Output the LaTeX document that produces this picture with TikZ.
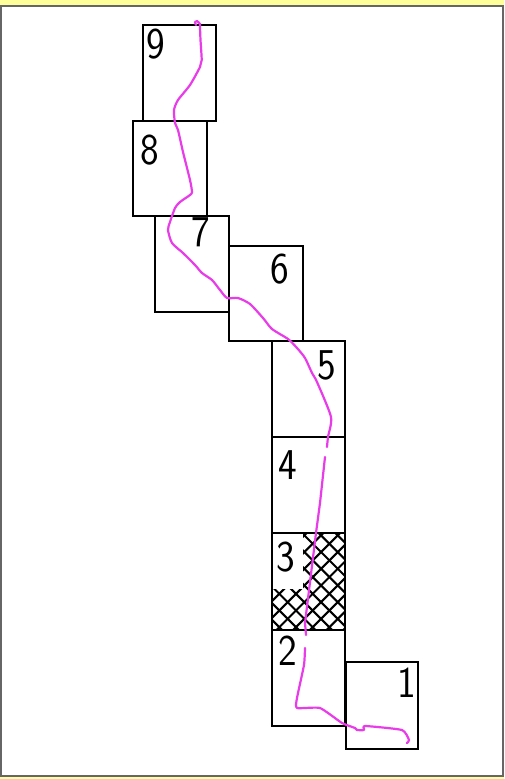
\documentclass[tikz,border=0pt]{standalone}
\begin{document}
\begin{tikzpicture}[x=1pt,y=-1pt,
    cellbox/.style={draw, line width=1.8pt, inner sep=0pt, outer sep=0pt},
    cellnum/.style={font=\sffamily\fontsize{44}{44}\selectfont, xscale=0.9, inner sep=0pt},
    hatchline/.style={line width=2.1pt},
    track/.style={draw=trackcol, line width=2.2pt, line join=round, line cap=round}]
    \definecolor{trackcol}{HTML}{E83CE8}
    \definecolor{sheetcol}{HTML}{FFFF99}
    \useasboundingbox (0,0) rectangle (504,779);
    \fill[sheetcol] (0,0) rectangle (504,779);
    \draw[black!60, fill=white, line width=2pt] (1,6) rectangle (503,776);

    % the cells
    \foreach \nm/\xa/\ya/\xb/\yb in {9/143/25/216/121, 8/133/121/207/216, 7/155/216/229/312, 6/229/246/303/341,
        5/272/341/345/437, 4/272/437/345/533, 3/272/533/345/630, 2/272/630/345/726, 1/346/662/418/749} {
        \pgfmathsetmacro{\cellw}{\xb-\xa}
        \pgfmathsetmacro{\cellh}{\yb-\ya}
        \node[cellbox, minimum width=\cellw pt, minimum height=\cellh pt] (cell\nm) at ({(\xa+\xb)/2},{(\ya+\yb)/2}) {};
    }

    % cross hatching in cell 3
    \begin{scope}
        \clip (303,534) -- (345,534) -- (345,630) -- (272,630) -- (272,589) -- (303,589) -- cycle;
        \foreach \k in {0,...,14} {
            \draw[hatchline] ({856.4+16.7*(\k-4)-500},500) -- ({856.4+16.7*(\k-4)-700},700);
            \draw[hatchline] ({-231-16.7*(\k-7)+500},500) -- ({-231-16.7*(\k-7)+700},700);
        }
    \end{scope}
    \draw[line width=2.2pt] (cell3.south west) -- (cell3.south east);
    \draw[line width=2.2pt] (cell4.north west) -- (cell4.north east);

    % the numbers
    \node[cellnum] (num9) at (156,44) {9};
    \node[cellnum] (num8) at (150,150) {8};
    \node[cellnum] (num7) at (201,232) {7};
    \node[cellnum] (num6) at (280,269) {6};
    \node[cellnum] (num5) at (327,365) {5};
    \node[cellnum] (num4) at (288,465) {4};
    \node[cellnum] (num3) at (286,557) {3};
    \node[cellnum] (num2) at (288,651) {2};
    \node[cellnum] (num1) at (407,683) {1};

    % the track, top to bottom
    \draw[track] plot[smooth, tension=0.4] coordinates {(196,25) (195,22) (197,21) (200,24) (200,27) (200.5,40) (201.7,60) (200,67)
        (190,85) (178,100) (174,110) (175,123) (178,130) (183,152) (190,180) (192,192)
        (190,195) (180,202) (175,208) (170,222) (168,230) (172,243) (183,253) (195,265)
        (202,273) (212,280) (220,290) (227,298) (238,298) (250,304) (263,318) (272,329)
        (288,339) (297,348) (305,358) (312,373) (317,382) (331,417) (328,437) (327,447)};
    \draw[track] (325,457) -- (320,503) -- (316,533) -- (305,623) -- (306,635);
    \draw[track] plot[smooth, tension=0.3] coordinates {(305,648) (304,665) (297,698) (297,708) (320,708) (342,723) (355,728) (357,730)
        (364,730) (365,726) (402,730) (409,740) (407,743)};
\end{tikzpicture}
\end{document}
